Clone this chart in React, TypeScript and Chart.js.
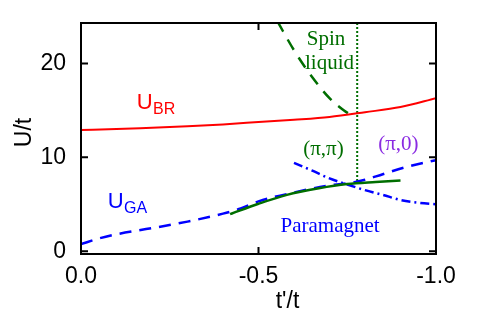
import React, { useEffect, useRef } from 'react';
import { Chart, registerables } from 'chart.js';

Chart.register(...registerables);

// axes
const tickX = [0, -0.5, -1.0];
const tickY = [0, 10, 20];
const xRange = [-1.0, 0];
const yRange = [-0.3, 24.3];

// U_BR (red solid)
const brT = [0, -0.1, -0.2, -0.3, -0.4, -0.5, -0.6, -0.7, -0.8, -0.9, -1.0];
const brU = [12.9, 13.0, 13.15, 13.3, 13.5, 13.75, 14.0, 14.3, 14.8, 15.35, 16.3];

// spin-liquid boundary (green dashed)
const slT = [-0.553, -0.6, -0.65, -0.7, -0.74, -0.765];
const slU = [24.5, 21.4, 18.6, 16.3, 15.0, 14.4];

// vertical dotted boundary
const vT = [-0.778, -0.778];
const vU = [24.3, 7.42];

// (pi,pi) boundary (green solid)
const ppT = [-0.42, -0.5, -0.58, -0.67, -0.75, -0.83, -0.9];
const ppU = [3.94, 5.05, 6.0, 6.7, 7.15, 7.37, 7.53];

// U_GA (blue dashed)
const gaT = [0, -0.05, -0.1, -0.2, -0.3, -0.4, -0.45, -0.5, -0.6, -0.7, -0.77, -0.8, -0.85, -0.92, -1.0];
const gaU = [0.75, 1.35, 1.8, 2.45, 3.15, 4.0, 4.55, 5.3, 6.25, 7.0, 7.35, 7.6, 8.2, 9.0, 9.7];

// (pi,0) boundary (blue dash-dot)
const p0T = [-0.6, -0.65, -0.7, -0.75, -0.8, -0.85, -0.9, -0.95, -1.0];
const p0U = [9.4, 8.6, 7.75, 7.1, 6.5, 6.0, 5.45, 5.15, 5.0];

const GREEN = '#006e00';
const BLUE = '#0000ff';
const RED = '#ff0000';
const PURPLE = '#8a2be2';

const SANS = '"Liberation Sans", Arial, sans-serif';
const SERIF = '"Liberation Serif", "Times New Roman", serif';

const pts = (t: number[], u: number[]) => t.map((v, i) => ({ x: v, y: u[i] }));

// annotation labels
const labels: Array<{ text: string; sub?: string; t: number; u: number; color: string; serif: boolean }> = [
  { text: 'U', sub: 'BR', t: -0.157, u: 15.14, color: RED, serif: false },
  { text: 'U', sub: 'GA', t: -0.075, u: 4.65, color: BLUE, serif: false },
  { text: 'Spin', t: -0.636, u: 21.92, color: GREEN, serif: true },
  { text: 'liquid', t: -0.631, u: 19.4, color: GREEN, serif: true },
  { text: '(\u03c0,\u03c0)', t: -0.626, u: 10.27, color: GREEN, serif: true },
  { text: '(\u03c0,0)', t: -0.837, u: 10.8, color: PURPLE, serif: true },
  { text: 'Paramagnet', t: -0.562, u: 2.09, color: BLUE, serif: true },
];

const decor = {
  id: 'decor',
  afterDatasetsDraw(chart: any) {
    const { ctx, chartArea: a, scales } = chart;
    const x = scales.x;
    const y = scales.y;
    ctx.save();
    // frame
    ctx.strokeStyle = '#000';
    ctx.lineWidth = 2;
    ctx.strokeRect(a.left, a.top, a.right - a.left, a.bottom - a.top);
    // inward ticks
    ctx.beginPath();
    for (const v of tickX) {
      const px = x.getPixelForValue(v);
      ctx.moveTo(px, a.bottom);
      ctx.lineTo(px, a.bottom - 7);
      ctx.moveTo(px, a.top);
      ctx.lineTo(px, a.top + 7);
    }
    for (const v of tickY) {
      const py = y.getPixelForValue(v);
      ctx.moveTo(a.left, py);
      ctx.lineTo(a.left + 7, py);
      ctx.moveTo(a.right, py);
      ctx.lineTo(a.right - 7, py);
    }
    ctx.stroke();

    // annotations
    ctx.textBaseline = 'alphabetic';
    ctx.textAlign = 'left';
    for (const l of labels) {
      const px = x.getPixelForValue(l.t);
      const py = y.getPixelForValue(l.u);
      ctx.fillStyle = l.color;
      ctx.font = `${l.serif ? 21 : 22}px ${l.serif ? SERIF : SANS}`;
      ctx.fillText(l.text, px, py);
      if (l.sub) {
        const w = ctx.measureText(l.text).width;
        ctx.font = `16px ${SANS}`;
        ctx.fillText(l.sub, px + w + 0.5, py + 5);
      }
    }

    // axis titles
    ctx.fillStyle = '#000';
    ctx.font = `23px ${SANS}`;
    ctx.textAlign = 'center';
    ctx.textBaseline = 'middle';
    ctx.fillText("t'/t", 287.5, 302);
    ctx.translate(25, 132.5);
    ctx.rotate(-Math.PI / 2);
    ctx.fillText('U/t', 0, 0);
    ctx.restore();
  },
};

export default function App() {
  const ref = useRef<HTMLCanvasElement>(null);
  useEffect(() => {
    if (!ref.current) return;
    const chart = new Chart(ref.current, {
      type: 'line',
      data: {
        datasets: [
          { data: pts(brT, brU), borderColor: RED, borderWidth: 2, pointRadius: 0, tension: 0.4, cubicInterpolationMode: 'monotone' },
          { data: pts(ppT, ppU), borderColor: GREEN, borderWidth: 2.5, pointRadius: 0, tension: 0.4, cubicInterpolationMode: 'monotone' },
          { data: pts(gaT, gaU), borderColor: BLUE, borderWidth: 2.5, borderDash: [12, 8], pointRadius: 0, tension: 0.4, cubicInterpolationMode: 'monotone' },
          { data: pts(p0T, p0U), borderColor: BLUE, borderWidth: 2.5, borderDash: [9, 4, 2, 4], pointRadius: 0, tension: 0.4, cubicInterpolationMode: 'monotone' },
          { data: pts(slT, slU), borderColor: GREEN, borderWidth: 2.5, borderDash: [12, 9], pointRadius: 0, tension: 0.4, cubicInterpolationMode: 'monotone' },
          { data: pts(vT, vU), borderColor: GREEN, borderWidth: 2, borderDash: [2, 2], pointRadius: 0, tension: 0 },
        ] as any,
      },
      options: {
        animation: false,
        responsive: false,
        maintainAspectRatio: false,
        layout: { padding: { top: 23, right: 55, left: 0, bottom: 0 } },
        plugins: { legend: { display: false }, tooltip: { enabled: false } },
        scales: {
          x: {
            type: 'linear',
            min: xRange[0],
            max: xRange[1],
            reverse: true,
            grid: { display: false },
            border: { display: false },
            afterBuildTicks: (s: any) => { s.ticks = tickX.map((v) => ({ value: v })); },
            afterFit: (s: any) => { s.height = 71; },
            ticks: {
              autoSkip: false,
              maxRotation: 0,
              padding: 1,
              color: '#000',
              font: { family: SANS, size: 23 },
              callback: (v: any) => Number(v).toFixed(1),
            },
          },
          y: {
            type: 'linear',
            min: yRange[0],
            max: yRange[1],
            grid: { display: false },
            border: { display: false },
            afterBuildTicks: (s: any) => { s.ticks = tickY.map((v) => ({ value: v })); },
            afterFit: (s: any) => { s.width = 81; },
            ticks: {
              padding: 7,
              color: '#000',
              font: { family: SANS, size: 23 },
              callback: (v: any) => String(v),
            },
          },
        },
      } as any,
      plugins: [decor],
    });
    return () => chart.destroy();
  }, []);
  return (
    <div style={{ position: 'absolute', left: 0, top: 0, width: 491, height: 325, background: '#fff' }}>
      <canvas ref={ref} width={491} height={325} />
    </div>
  );
}
